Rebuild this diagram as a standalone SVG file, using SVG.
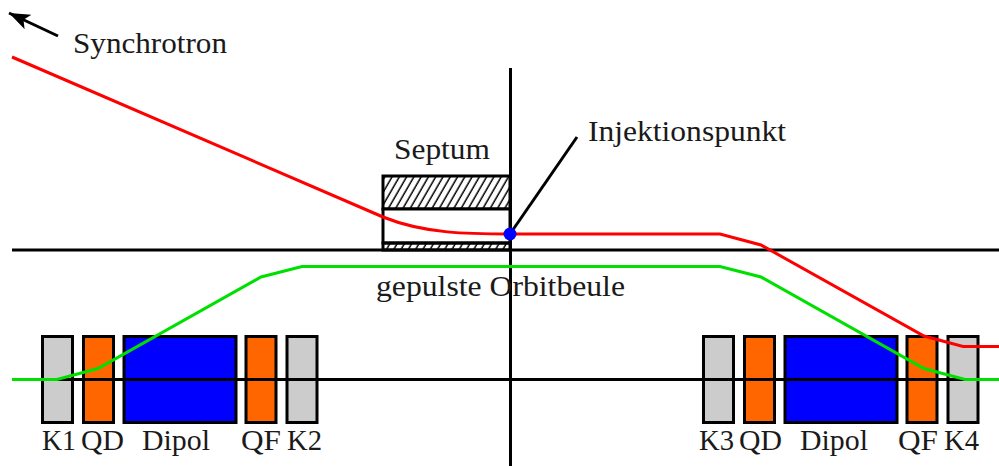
<svg xmlns="http://www.w3.org/2000/svg" width="999" height="466" viewBox="0 0 999 466">
<style>
text{font-family:"Liberation Serif","Times New Roman",serif;font-size:29px;fill:#1a1a1a}
.b{stroke:#000;stroke-width:3}
.k{fill:#ccc}.q{fill:#ff6600}.d{fill:#0000ff}
.l{fill:none;stroke:#000;stroke-width:3}
.r{fill:none;stroke:#ff0000;stroke-width:3}
.g{fill:none;stroke:#00e000;stroke-width:3}
</style>
<defs>
<pattern id="h" width="6.300" height="10" patternUnits="userSpaceOnUse" patternTransform="translate(383 176) rotate(30)">
<line x1="2" y1="0" x2="2" y2="10" stroke="#000" stroke-width="1.500"/>
</pattern>
<marker id="a" markerUnits="userSpaceOnUse" markerWidth="24" markerHeight="20" refX="21" refY="8" orient="auto">
<path d="M0 0 L21 8 L0 16 L5 8Z" fill="#000"/>
</marker>
</defs>
<g id="septum">
<rect x="383" y="176" width="127" height="33" fill="url(#h)" class="b"/>
<rect x="383" y="209" width="127" height="34" fill="#fff" class="b"/>
<rect x="383" y="243" width="127" height="7" fill="url(#h)" class="b"/>
<text x="394" y="159" textLength="96" lengthAdjust="spacingAndGlyphs">Septum</text>
</g>
<g id="K1"><rect class="b k" x="42.500" y="336.500" width="30" height="86"/><text x="42" y="450" textLength="34" lengthAdjust="spacingAndGlyphs">K1</text></g>
<g id="QD1"><rect class="b q" x="83.500" y="336.500" width="30" height="86"/><text x="81" y="450" textLength="43" lengthAdjust="spacingAndGlyphs">QD</text></g>
<g id="Dipol1"><rect class="b d" x="124" y="336.500" width="112" height="86"/><text x="142" y="450" textLength="68" lengthAdjust="spacingAndGlyphs">Dipol</text></g>
<g id="QF1"><rect class="b q" x="246" y="336.500" width="30" height="86"/><text x="241" y="450" textLength="40" lengthAdjust="spacingAndGlyphs">QF</text></g>
<g id="K2"><rect class="b k" x="287" y="336.500" width="30" height="86"/><text x="287" y="450" textLength="35" lengthAdjust="spacingAndGlyphs">K2</text></g>
<g id="K3"><rect class="b k" x="703.500" y="336.500" width="30" height="86"/><text x="699" y="450" textLength="35" lengthAdjust="spacingAndGlyphs">K3</text></g>
<g id="QD2"><rect class="b q" x="744.500" y="336.500" width="30" height="86"/><text x="739" y="450" textLength="43" lengthAdjust="spacingAndGlyphs">QD</text></g>
<g id="Dipol2"><rect class="b d" x="785" y="336.500" width="112" height="86"/><text x="800" y="450" textLength="68" lengthAdjust="spacingAndGlyphs">Dipol</text></g>
<g id="QF2"><rect class="b q" x="907" y="336.500" width="30" height="86"/><text x="898" y="450" textLength="40" lengthAdjust="spacingAndGlyphs">QF</text></g>
<g id="K4"><rect class="b k" x="948" y="336.500" width="30" height="86"/><text x="944" y="450" textLength="35" lengthAdjust="spacingAndGlyphs">K4</text></g>
<g id="connectors">
<line class="l" x1="510.500" y1="68" x2="510.500" y2="466"/>
<line class="l" x1="12" y1="250" x2="999" y2="250"/>
<line class="l" x1="12" y1="379.500" x2="999" y2="379.500"/>
<path class="r" d="M12 57 L383 217 C425 234 470 234 510 234 L720 234 L761 245 L924 336 L963 346.500 L999 346.500"/>
<path class="g" d="M12 379.500 L57 379.500 L98 368.500 L261 277 L302 266.500 L720 266.500 L761 277 L924 368.500 L965 379.500 L999 379.500"/>
<line class="l" x1="510" y1="234" x2="577" y2="137"/>
<line class="l" x1="58" y1="36" x2="9" y2="13" marker-end="url(#a)"/>
</g>
<g id="injektionspunkt"><circle cx="510" cy="234" r="6.500" fill="#0000ff"/><text x="588" y="141" textLength="198" lengthAdjust="spacingAndGlyphs">Injektionspunkt</text></g>
<text id="synchrotron" x="73" y="53" textLength="154" lengthAdjust="spacingAndGlyphs">Synchrotron</text>
<text id="orbitbeule" x="376" y="296" textLength="249" lengthAdjust="spacingAndGlyphs">gepulste Orbitbeule</text>
</svg>
